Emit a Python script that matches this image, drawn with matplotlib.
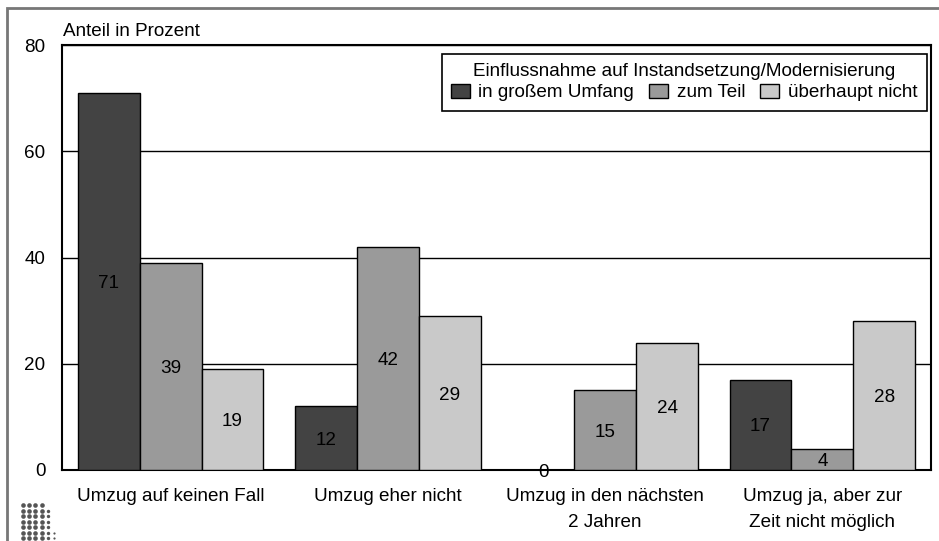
import numpy as np
import matplotlib.pyplot as plt
from matplotlib.patches import Rectangle

plt.rcParams['font.family'] = ['Liberation Sans', 'DejaVu Sans']

# Daten
kategorien = ['Umzug auf keinen Fall', 'Umzug eher nicht',
              'Umzug in den nächsten\n2 Jahren', 'Umzug ja, aber zur\nZeit nicht möglich']
grossem_umfang = [71, 12, 0, 17]
zum_teil = [39, 42, 15, 4]
ueberhaupt_nicht = [19, 29, 24, 28]

serien = ['in großem Umfang', 'zum Teil', 'überhaupt nicht']
farben = ['#434343', '#9a9a9a', '#c9c9c9']

fs = 13.6
fig = plt.figure(figsize=(9.39, 5.41), dpi=100)
ax = fig.add_axes([62/939, 1 - 470/541, (931 - 62)/939, (470 - 45)/541])

x = np.arange(len(kategorien))
breite = 0.285
for i, (werte, name, farbe) in enumerate(zip([grossem_umfang, zum_teil, ueberhaupt_nicht], serien, farben)):
    pos = x + (i - 1) * breite
    ax.bar(pos, werte, width=breite, color=farbe, edgecolor='black',
           linewidth=1.0, label=name, zorder=3)
    for p, v in zip(pos, werte):
        ax.text(p, v / 2 - 0.4, str(v), ha='center', va='center', fontsize=fs, zorder=4)

ax.set_xlim(-0.5, len(kategorien) - 0.5)
ax.set_ylim(0, 80)
ax.set_yticks([0, 20, 40, 60, 80])
ax.set_xticks(x)
ax.set_xticklabels(kategorien, fontsize=fs, linespacing=1.7)
ax.tick_params(axis='both', length=0, labelsize=fs)
ax.tick_params(axis='y', pad=12)
ax.tick_params(axis='x', pad=13)
ax.grid(axis='y', color='black', linewidth=1.0, zorder=0)
for s in ax.spines.values():
    s.set_linewidth(1.5)

leg = ax.legend(title='Einflussnahme auf Instandsetzung/Modernisierung', ncol=3,
                loc='upper right', bbox_to_anchor=(0.995, 0.98), fontsize=fs,
                title_fontsize=fs, fancybox=False, framealpha=1, edgecolor='black',
                handlelength=1.0, handleheight=0.75, handletextpad=0.45,
                columnspacing=0.8, borderpad=0.5, labelspacing=0.2, borderaxespad=0)
leg.get_frame().set_linewidth(1.2)

fig.text(63/939, 1 - 31/541, 'Anteil in Prozent', fontsize=fs, ha='left', va='center')

# äußerer Rahmen
fig.patches.append(Rectangle((7/939, -0.1), 1.1, 1 - 8/541 + 0.1, transform=fig.transFigure,
                             fill=False, edgecolor='#777777', linewidth=2))

# Logo unten links (Punktraster)
logo = fig.add_axes([10/939, 0, 60/939, 41/541])
logo.set_xlim(10, 70)
logo.set_ylim(541, 500)
logo.axis('off')
gx, gy = np.meshgrid(np.arange(4), np.arange(7))
logo.scatter(23 + 6.2 * gx.ravel(), 505 + 5.5 * gy.ravel(), s=11, color='#555555', lw=0)
reihen = np.arange(1, 7)
logo.scatter(23 + 6.2 * 4 + 0 * reihen, 505 + 5.5 * reihen, s=6, color='#555555', lw=0)
logo.scatter([23 + 6.2 * 5] * 2, [505 + 5.5 * 5, 505 + 5.5 * 6], s=2.5, color='#555555', lw=0)

fig.savefig('out.png', dpi=100)
